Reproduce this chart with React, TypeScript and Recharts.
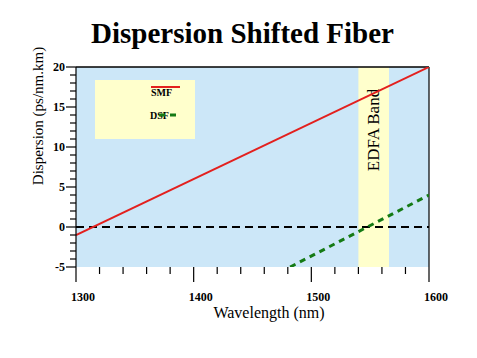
import { LineChart, Line, XAxis, YAxis, CartesianGrid, ReferenceArea, ReferenceLine, Legend, Label } from 'recharts';

const SERIF = "'Liberation Serif', 'Times New Roman', serif";

// wavelength (nm) -> dispersion (ps/nm.km)
const smfWavelength = [1300, 1600];
const smfDispersion = [-1, 20];
const dsfWavelength = [1482, 1600];
const dsfDispersion = [-5, 4];

const seriesNames = ['SMF', 'DSF'];
const edfaBand = [1540, 1566];

const xTicks = [1300, 1320, 1340, 1360, 1380, 1400, 1420, 1440, 1460, 1480, 1500, 1520, 1540, 1560, 1580, 1600];
const xLabels = [1300, 1400, 1500, 1600];
const yTicks = [-5, -4, -3, -2, -1, 0, 1, 2, 3, 4, 5, 6, 7, 8, 9, 10, 11, 12, 13, 14, 15, 16, 17, 18, 19, 20];
const yLabels = [-5, 0, 5, 10, 15, 20];

const smfData = smfWavelength.map((wl, i) => ({ wl, smf: smfDispersion[i] }));
const dsfData = dsfWavelength.map((wl, i) => ({ wl, dsf: dsfDispersion[i] }));

function XTick({ x, y, payload }: any) {
  const major = xLabels.includes(payload.value);
  return (
    <g>
      <line x1={x} y1={y} x2={x} y2={y + (major ? 15 : 7)} stroke="#000" strokeWidth={1.2} />
      {major && (
        <text x={x + 7} y={y + 34} textAnchor="middle" fontFamily={SERIF} fontWeight="bold" fontSize={12} fill="#000">
          {payload.value}
        </text>
      )}
    </g>
  );
}

function YTick({ x, y, payload }: any) {
  const major = yLabels.includes(payload.value);
  return (
    <g>
      <line x1={x - (major ? 10 : 6)} y1={y} x2={x} y2={y} stroke="#000" strokeWidth={1.2} />
      {major && (
        <text x={x - 11} y={y + 4} textAnchor="end" fontFamily={SERIF} fontWeight="bold" fontSize={12} fill="#000">
          {payload.value}
        </text>
      )}
    </g>
  );
}

function LegendBox({ payload }: any) {
  const items = seriesNames
    .map(n => (payload || []).find((p: any) => p.value === n))
    .filter(Boolean);
  return (
    <svg width={100} height={59} style={{ display: 'block' }}>
      {items.map((it: any, i: number) => {
        const cy = i === 0 ? 12 : 35;
        return (
          <g key={it.value}>
            <text x={i === 0 ? 56 : 55} y={cy + 4} fontFamily={SERIF} fontWeight="bold" fontSize={10} fill="#000">{it.value}</text>
            <line
              x1={i === 0 ? 56 : 64} x2={85}
              y1={i === 0 ? cy - 5 : cy} y2={i === 0 ? cy - 5 : cy}
              stroke={it.color} strokeWidth={i === 0 ? 2 : 3}
              strokeDasharray={i === 0 ? undefined : '6 5'}
            />
          </g>
        );
      })}
    </svg>
  );
}

export default function App() {
  return (
    <div style={{ position: 'absolute', left: 0, top: 0, width: 477, height: 358, background: '#fff' }}>
      <div style={{ position: 'absolute', left: 0, top: 19, width: 485, textAlign: 'center', fontFamily: SERIF, fontWeight: 'bold', fontSize: 29, lineHeight: '29px' }}>
        Dispersion Shifted Fiber
      </div>
      <LineChart width={477} height={358} margin={{ top: 67, right: 48, bottom: 0, left: 0 }}>
        <CartesianGrid horizontal={false} vertical={false} fill="#cce7f8" />
        <XAxis
          type="number" dataKey="wl" domain={[1300, 1600]} ticks={xTicks} interval={0}
          height={91} axisLine={false} tickLine={false} tickSize={0} tickMargin={0} tick={<XTick />}
          allowDataOverflow
        >
          <Label content={() => (
            <text x={269} y={318} textAnchor="middle" fontFamily={SERIF} fontSize={16} fill="#000">Wavelength (nm)</text>
          )} />
        </XAxis>
        <YAxis
          type="number" domain={[-5, 20]} ticks={yTicks} interval={0} width={76}
          axisLine={{ stroke: '#000', strokeWidth: 1.2 }} tickLine={false} tickSize={0} tickMargin={0} tick={<YTick />}
          allowDataOverflow
        >
          <Label content={() => (
            <text x={38} y={116} transform="rotate(-90 38 116)" textAnchor="middle" dominantBaseline="central" fontFamily={SERIF} fontSize={15} fill="#000">Dispersion (ps/nm.km)</text>
          )} />
        </YAxis>
        <ReferenceArea
          x1={edfaBand[0]} x2={edfaBand[1]} y1={-5} y2={20} fill="#ffffcc" fillOpacity={1} stroke="none"
          label={({ viewBox }: any) => {
            const cx = viewBox.x + viewBox.width / 2;
            const cy = viewBox.y + 63;
            return (
              <text x={cx} y={cy} transform={`rotate(-90 ${cx} ${cy})`} textAnchor="middle" dominantBaseline="central" fontFamily={SERIF} fontSize={17} fill="#000">
                EDFA Band
              </text>
            );
          }}
        />
        <ReferenceLine y={20} stroke="#000" strokeWidth={1.5} />
        <ReferenceLine x={1600} stroke="#000" strokeWidth={1.2} />
        <ReferenceLine y={0} stroke="#000" strokeWidth={2} strokeDasharray="8 5" />
        <Line data={smfData} dataKey="smf" name={seriesNames[0]} stroke="#e3201e" strokeWidth={2} dot={false} isAnimationActive={false} />
        <Line data={dsfData} dataKey="dsf" name={seriesNames[1]} stroke="#147a14" strokeWidth={3} strokeDasharray="6 5" dot={false} isAnimationActive={false} />
        <Legend
          layout="vertical" align="center" verticalAlign="middle" content={<LegendBox />}
          wrapperStyle={{ left: 95, top: 80, width: 100, height: 59, background: '#ffffcc' }}
        />
      </LineChart>
    </div>
  );
}
